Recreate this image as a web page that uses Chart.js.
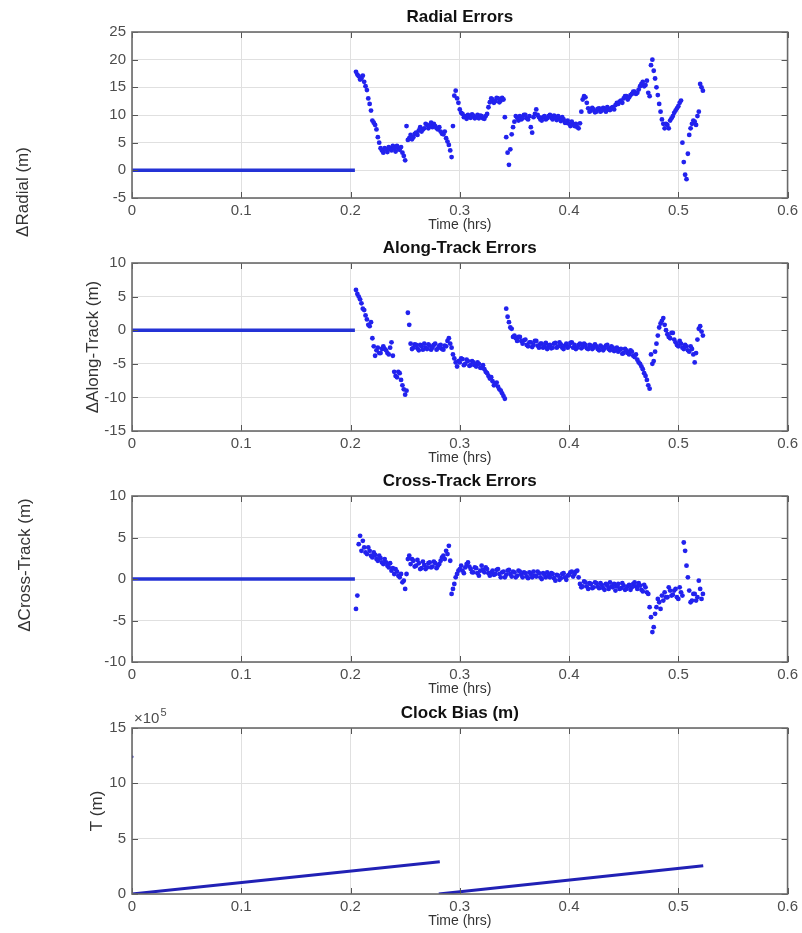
<!DOCTYPE html>
<html>
<head>
<meta charset="utf-8">
<script src="https://cdn.jsdelivr.net/npm/chart.js@4.4.1/dist/chart.umd.min.js"></script>
<style>
  html, body { margin: 0; padding: 0; background: #fff; overflow: hidden; }
  #fig { position: relative; width: 802px; height: 933px; }
  #fig canvas { position: absolute; left: 0; }
</style>
</head>
<body>
<div id="fig">
  <canvas id="pRadial" width="802" height="238" style="top:0px"></canvas>
  <canvas id="pAlong"  width="802" height="240" style="top:231px"></canvas>
  <canvas id="pCross"  width="802" height="238" style="top:464px"></canvas>
  <canvas id="pClock"  width="802" height="238" style="top:696px"></canvas>
</div>
<script>
// Solution epochs (hrs) after the filter converges, stored as two interleaved grids
const epochsA = [
  0.205, 0.2075, 0.21, 0.2125, 0.215, 0.2175, 0.22, 0.2225, 0.225, 0.2275,
  0.23, 0.2325, 0.235, 0.2375, 0.24, 0.2425, 0.245, 0.2475, 0.25, 0.2525,
  0.255, 0.2575, 0.26, 0.2625, 0.265, 0.2675, 0.27, 0.2725, 0.275, 0.2775,
  0.28, 0.2825, 0.285, 0.2875, 0.29, 0.2925, 0.295, 0.2975, 0.3, 0.3025,
  0.305, 0.3075, 0.31, 0.3125, 0.315, 0.3175, 0.32, 0.3225, 0.325, 0.3275,
  0.33, 0.3325, 0.335, 0.3375, 0.34, 0.3425, 0.345, 0.3475, 0.35, 0.3525,
  0.355, 0.3575, 0.36, 0.3625, 0.365, 0.3675, 0.37, 0.3725, 0.375, 0.3775,
  0.38, 0.3825, 0.385, 0.3875, 0.39, 0.3925, 0.395, 0.3975, 0.4, 0.4025,
  0.405, 0.4075, 0.41, 0.4125, 0.415, 0.4175, 0.42, 0.4225, 0.425, 0.4275,
  0.43, 0.4325, 0.435, 0.4375, 0.44, 0.4425, 0.445, 0.4475, 0.45, 0.4525,
  0.455, 0.4575, 0.46, 0.4625, 0.465, 0.4675, 0.47, 0.4725, 0.475, 0.4775,
  0.48, 0.4825, 0.485, 0.4875, 0.49, 0.4925, 0.495, 0.4975, 0.5, 0.5025,
  0.505, 0.5075, 0.51, 0.5125, 0.515, 0.5175, 0.52, 0.5225
];
const epochsB = [
  0.20625, 0.20875, 0.21125, 0.21375, 0.21625, 0.21875, 0.22125, 0.22375, 0.22625, 0.22875,
  0.23125, 0.23375, 0.23625, 0.23875, 0.24125, 0.24375, 0.24625, 0.24875, 0.25125, 0.25375,
  0.25625, 0.25875, 0.26125, 0.26375, 0.26625, 0.26875, 0.27125, 0.27375, 0.27625, 0.27875,
  0.28125, 0.28375, 0.28625, 0.28875, 0.29125, 0.29375, 0.29625, 0.29875, 0.30125, 0.30375,
  0.30625, 0.30875, 0.31125, 0.31375, 0.31625, 0.31875, 0.32125, 0.32375, 0.32625, 0.32875,
  0.33125, 0.33375, 0.33625, 0.33875, 0.34125, 0.34375, 0.34625, 0.34875, 0.35125, 0.35375,
  0.35625, 0.35875, 0.36125, 0.36375, 0.36625, 0.36875, 0.37125, 0.37375, 0.37625, 0.37875,
  0.38125, 0.38375, 0.38625, 0.38875, 0.39125, 0.39375, 0.39625, 0.39875, 0.40125, 0.40375,
  0.40625, 0.40875, 0.41125, 0.41375, 0.41625, 0.41875, 0.42125, 0.42375, 0.42625, 0.42875,
  0.43125, 0.43375, 0.43625, 0.43875, 0.44125, 0.44375, 0.44625, 0.44875, 0.45125, 0.45375,
  0.45625, 0.45875, 0.46125, 0.46375, 0.46625, 0.46875, 0.47125, 0.47375, 0.47625, 0.47875,
  0.48125, 0.48375, 0.48625, 0.48875, 0.49125, 0.49375, 0.49625, 0.49875, 0.50125, 0.50375,
  0.50625, 0.50875, 0.51125, 0.51375, 0.51625, 0.51875, 0.52125
];

// Radial error (m)
const radialA = [
  17.8, 17.0, 16.6, 16.0, 14.5, 12.0, 9.0, 8.2, 6.0, 4.0,
  3.2, 3.8, 4.2, 3.6, 4.0, 4.4, 3.7, 3.2, 1.8, 5.5,
  6.4, 6.0, 6.8, 7.2, 7.0, 7.6, 8.2, 8.0, 7.8, 8.0,
  7.4, 7.0, 6.5, 5.8, 4.6, 2.4, 13.5, 13.0, 11.0, 10.2,
  9.8, 10.0, 9.5, 9.9, 9.6, 9.4, 9.8, 9.3, 10.2, 12.3,
  12.8, 12.5, 13.0, 12.6, 12.8, 6.0, 1.0, 6.5, 8.8, 9.5,
  9.8, 9.4, 10.0, 9.2, 7.8, 9.6, 11.0, 9.6, 9.0, 9.8,
  9.4, 10.0, 9.2, 9.6, 9.8, 8.9, 9.2, 8.6, 8.4, 8.8,
  8.0, 7.8, 8.5, 12.8, 13.2, 11.2, 10.8, 11.0, 10.6, 11.2,
  10.8, 11.0, 11.4, 10.9, 11.4, 11.8, 12.0, 12.6, 13.0, 13.4,
  13.2, 13.8, 14.2, 14.0, 15.2, 16.0, 15.4, 14.0, 19.0, 18.0,
  15.0, 12.0, 9.2, 7.6, 8.2, 9.0, 9.8, 10.8, 11.6, 12.6,
  1.5, -1.6, 6.4, 8.4, 8.8, 9.8, 15.6, 14.4
];
const radialB = [
  17.3, 16.4, 17.1, 15.2, 13.0, 10.8, 8.6, 7.4, 5.0, 3.6,
  4.0, 3.3, 3.9, 4.4, 3.4, 3.9, 4.2, 2.6, 8.0, 5.8,
  5.6, 6.6, 6.4, 7.8, 7.4, 8.4, 7.6, 8.6, 8.4, 7.6,
  7.8, 6.6, 7.0, 5.2, 3.6, 8.0, 14.4, 12.2, 10.4, 9.6,
  9.3, 9.6, 10.1, 9.4, 10.0, 9.9, 9.4, 9.8, 11.4, 13.0,
  12.2, 13.1, 12.3, 13.1, 9.6, 3.2, 3.8, 7.8, 9.8, 9.0,
  9.2, 10.0, 9.4, 9.8, 6.8, 10.2, 10.0, 9.2, 9.6, 9.2,
  9.8, 9.5, 9.9, 9.1, 9.4, 9.6, 8.6, 9.0, 8.0, 8.3,
  8.4, 7.6, 10.6, 13.4, 12.2, 10.6, 11.3, 10.5, 11.1, 10.6,
  11.3, 10.6, 11.0, 11.3, 11.0, 12.2, 12.4, 12.2, 13.4, 12.8,
  13.6, 14.2, 13.8, 14.6, 15.6, 15.2, 16.2, 13.4, 20.0, 16.6,
  13.6, 10.6, 8.4, 8.4, 7.6, 9.4, 10.4, 11.2, 12.2, 5.0,
  -0.8, 3.0, 7.6, 9.0, 8.2, 10.6, 15.0
];

// Along-track error (m)
const alongA = [
  6.0, 5.0, 4.0, 3.0, 1.6, 0.6, -1.2, -3.8, -2.6, -3.4,
  -2.4, -3.0, -3.6, -1.8, -6.2, -7.0, -6.4, -8.2, -9.6, 2.6,
  -2.0, -2.6, -2.2, -3.0, -2.4, -2.0, -2.8, -2.3, -2.6, -2.0,
  -2.7, -2.2, -2.9, -2.4, -1.2, -2.6, -4.2, -5.4, -4.8, -4.3,
  -5.0, -4.6, -5.2, -4.8, -5.4, -5.0, -5.6, -5.8, -6.4, -7.2,
  -7.6, -8.0, -8.4, -9.0, -9.8, 3.2, 1.2, 0.2, -0.8, -1.6,
  -1.0, -2.0, -1.4, -2.4, -1.8, -2.2, -1.6, -2.6, -2.0, -2.4,
  -2.8, -2.2, -2.6, -1.9, -2.4, -2.1, -2.8, -2.0, -2.4, -1.8,
  -2.2, -2.6, -2.0, -2.5, -2.2, -2.8, -2.3, -2.6, -2.4, -3.0,
  -2.5, -2.7, -2.2, -3.0, -2.6, -2.9, -3.2, -2.8, -3.4, -3.0,
  -3.6, -3.2, -4.0, -4.4, -5.0, -5.8, -6.8, -8.2, -3.6, -4.6,
  -2.0, 0.4, 1.4, 0.8, -0.6, -1.2, -0.4, -1.8, -2.4, -2.0,
  -2.8, -2.4, -3.2, -2.8, -4.8, -1.4, 0.6, -0.8
];
const alongB = [
  5.4, 4.6, 3.2, 2.2, 0.8, 1.2, -2.4, -3.0, -3.4, -2.8,
  -2.8, -3.4, -2.6, -3.8, -6.8, -6.2, -7.4, -8.8, -9.0, 0.8,
  -2.8, -2.1, -2.7, -2.2, -2.9, -2.6, -2.1, -2.9, -2.2, -2.9,
  -2.3, -2.8, -2.3, -1.6, -2.0, -3.6, -4.8, -4.6, -4.2, -5.2,
  -4.4, -5.3, -4.6, -5.2, -4.8, -5.6, -5.2, -6.2, -6.8, -7.0,
  -8.2, -7.8, -8.8, -9.4, -10.2, 2.0, 0.4, -1.0, -1.2, -1.0,
  -1.6, -1.5, -2.2, -1.8, -2.5, -1.6, -2.3, -2.0, -2.6, -1.9,
  -2.3, -2.7, -2.0, -2.6, -1.8, -2.6, -2.3, -2.6, -1.9, -2.6,
  -2.8, -2.2, -2.7, -2.0, -2.7, -2.2, -2.8, -2.1, -2.8, -2.3,
  -3.0, -2.3, -2.8, -2.4, -3.1, -2.6, -2.9, -3.5, -2.8, -3.4,
  -3.0, -3.8, -3.6, -4.8, -5.4, -6.4, -7.4, -8.7, -5.0, -3.2,
  -0.8, 1.0, 1.8, 0.0, -1.0, -0.4, -1.4, -2.2, -1.6, -2.6,
  -2.2, -3.0, -2.4, -3.6, -3.4, 0.2, -0.2
];

// Cross-track error (m)
const crossA = [
  -3.6, 4.2, 3.4, 3.8, 3.0, 3.4, 2.6, 2.9, 2.2, 2.5,
  1.8, 2.0, 1.4, 1.0, 0.6, 0.9, 0.2, -0.4, -1.2, 2.4,
  1.8, 2.2, 1.6, 1.9, 1.3, 1.7, 1.4, 2.0, 1.5, 1.9,
  1.6, 2.2, 2.8, 3.4, 4.0, -1.8, -0.6, 0.6, 1.2, 1.0,
  1.4, 2.0, 1.2, 0.8, 1.3, 0.4, 1.6, 0.8, 1.2, 0.4,
  1.0, 0.6, 1.2, 0.2, 0.9, 0.5, 1.1, 0.3, 0.8, 0.4,
  0.9, 0.2, 0.7, 0.1, 0.6, 0.9, 0.3, 0.7, 0.0, 0.5,
  0.8, 0.2, 0.6, -0.2, 0.4, 0.1, 0.7, -0.1, 0.5, 0.9,
  0.6, 1.0, -0.6, -0.9, -0.4, -1.2, -0.6, -1.0, -0.5, -1.1,
  -0.7, -1.3, -0.8, -0.4, -1.0, -1.4, -0.6, -1.1, -0.8, -1.2,
  -0.7, -1.0, -0.4, -1.2, -0.8, -1.5, -1.0, -1.8, -4.6, -5.8,
  -3.4, -2.8, -2.0, -1.6, -2.2, -1.4, -1.9, -1.2, -2.4, -1.6,
  4.4, 1.6, -1.4, -2.6, -1.8, -2.2, -1.2, -1.8
];
const crossB = [
  -2.0, 5.2, 4.6, 3.2, 3.8, 2.8, 3.2, 2.4, 2.8, 2.0,
  2.4, 1.6, 1.9, 1.3, 1.2, 0.4, 0.6, -0.2, 0.6, 2.8,
  2.4, 1.5, 2.3, 1.2, 2.1, 1.2, 1.9, 1.4, 2.1, 1.3,
  1.8, 2.6, 2.4, 3.0, 2.2, -1.2, 0.2, 1.0, 1.6, 0.7,
  1.8, 1.5, 0.8, 1.4, 0.7, 1.0, 1.1, 1.4, 0.7, 0.8,
  0.5, 1.1, 0.6, 0.8, 0.2, 1.0, 0.6, 0.9, 0.2, 1.0,
  0.5, 0.8, 0.3, 0.8, 0.2, 0.4, 0.9, 0.2, 0.7, 0.2,
  0.4, 0.7, 0.1, 0.5, -0.1, 0.6, 0.2, 0.4, 0.8, 0.3,
  0.9, 0.2, -1.0, -0.3, -0.9, -0.5, -1.1, -0.4, -0.9, -0.5,
  -1.1, -0.6, -1.2, -0.9, -0.6, -0.9, -1.2, -0.5, -1.3, -0.9,
  -1.3, -0.6, -0.9, -0.5, -1.3, -0.7, -1.6, -3.4, -6.4, -4.2,
  -2.4, -3.6, -2.6, -2.2, -1.0, -2.0, -1.4, -2.2, -1.0, -2.0,
  3.4, 0.2, -2.8, -1.8, -2.6, -0.2, -2.4
];

// Before convergence the errors are held at zero
const idleT = [0, 0.204];
const idleV = [0, 0];

// Receiver clock bias (m): two ramps with a reset in between
const clockRamp1T = [0, 0.2817];
const clockRamp1V = [0, 292000];
const clockRamp2T = [0.2808, 0.5228];
const clockRamp2V = [0, 256000];
const clockInitT = [0];
const clockInitV = [1240000];

// Axis ticks
const timeTicks = [0, 0.1, 0.2, 0.3, 0.4, 0.5, 0.6];
const timeTickLabels = ['0', '0.1', '0.2', '0.3', '0.4', '0.5', '0.6'];
const radialTicks = [-5, 0, 5, 10, 15, 20, 25];
const alongTicks = [-15, -10, -5, 0, 5, 10];
const crossTicks = [-10, -5, 0, 5, 10];
const clockTicks = [0, 500000, 1000000, 1500000];
const clockTickLabels = ['0', '5', '10', '15'];

Chart.defaults.font.family = '"Liberation Sans", Arial, Helvetica, sans-serif';

const pairs = (xs, ys) => xs.map((x, i) => ({ x, y: ys[i] }));

const DOT = 'rgb(34,34,238)';

// Error samples drawn as plain dot markers
function dotSet(xs, ys) {
  return { data: pairs(xs, ys), showLine: false, pointRadius: 2.4,
           pointBackgroundColor: DOT, pointBorderWidth: 0, pointHoverRadius: 0 };
}
function lineSet(xs, ys, color, width) {
  return { data: pairs(xs, ys), showLine: true, borderColor: color, borderWidth: width,
           pointRadius: 0, pointHoverRadius: 0 };
}

// Boxed axes with inward ticks on all four sides, rotated y label, exponent note
const frame = {
  id: 'frame',
  afterDraw(chart, _args, o) {
    const { ctx, chartArea: a, scales: { x, y } } = chart;
    ctx.save();
    ctx.strokeStyle = '#555';
    ctx.lineWidth = 1;
    ctx.beginPath();
    x.ticks.forEach(t => {
      const p = Math.round(x.getPixelForValue(t.value)) + 0.5;
      ctx.moveTo(p, a.top); ctx.lineTo(p, a.top + 6);
      ctx.moveTo(p, a.bottom); ctx.lineTo(p, a.bottom - 6);
    });
    y.ticks.forEach(t => {
      const p = Math.round(y.getPixelForValue(t.value)) + 0.5;
      ctx.moveTo(a.left, p); ctx.lineTo(a.left + 6, p);
      ctx.moveTo(a.right, p); ctx.lineTo(a.right - 6, p);
    });
    ctx.stroke();
    ctx.strokeStyle = '#6a6a6a';
    ctx.lineWidth = 1.6;
    ctx.strokeRect(a.left, a.top, a.right - a.left, a.bottom - a.top);

    if (o.exponent) {
      ctx.fillStyle = '#4d4d4d';
      ctx.textAlign = 'left';
      ctx.textBaseline = 'alphabetic';
      ctx.font = '15px "Liberation Sans", Arial, sans-serif';
      const base = '\u00d710';
      ctx.fillText(base, a.left + 2, a.top - 5);
      const w = ctx.measureText(base).width;
      ctx.font = '11px "Liberation Sans", Arial, sans-serif';
      ctx.fillText(o.exponent, a.left + 2 + w + 1, a.top - 12);
    }

    ctx.translate(o.yLabelX, o.yLabelY);
    ctx.rotate(-Math.PI / 2);
    ctx.fillStyle = '#333';
    ctx.textAlign = 'center';
    ctx.textBaseline = 'middle';
    ctx.font = '17px "Liberation Sans", Arial, sans-serif';
    ctx.fillText(o.yLabel, 0, 0);
    ctx.restore();
  }
};

function panel(id, p) {
  return new Chart(document.getElementById(id), {
    type: 'scatter',
    data: { datasets: p.datasets },
    options: {
      responsive: false,
      animation: false,
      events: [],
      layout: { padding: { left: 0, right: 14, top: 0, bottom: 0 } },
      plugins: {
        legend: { display: false },
        tooltip: { enabled: false },
        title: {
          display: true, text: p.title, fullSize: false, color: '#111',
          font: { size: 17, weight: 'bold' }, padding: { top: 6.8, bottom: 4.8 }
        },
        frame: { yLabel: p.yLabel, yLabelX: p.yLabelX, yLabelY: p.yLabelY, exponent: p.exponent }
      },
      scales: {
        x: {
          type: 'linear', min: 0, max: 0.6,
          afterBuildTicks: s => { s.ticks = timeTicks.map(v => ({ value: v })); },
          afterFit: s => { s.height = 40; },
          grid: { color: '#e0e0e0', drawTicks: false },
          border: { display: false },
          ticks: { padding: 4, color: '#4d4d4d', font: { size: 15 }, maxRotation: 0, autoSkip: false,
                   callback: (v, i) => timeTickLabels[i] },
          title: { display: true, text: 'Time (hrs)', color: '#333', font: { size: 14 },
                   padding: { top: 0, bottom: 4 } }
        },
        y: {
          type: 'linear', min: p.yMin, max: p.yMax,
          afterBuildTicks: s => { s.ticks = p.yTicks.map(v => ({ value: v })); },
          afterFit: s => { s.width = 132; },
          grid: { color: '#e0e0e0', drawTicks: false },
          border: { display: false },
          ticks: { padding: 6, color: '#4d4d4d', font: { size: 15 }, autoSkip: false,
                   callback: (v, i) => p.yTickLabels[i] }
        }
      }
    },
    plugins: [frame]
  });
}

const ZERO = '#2432d6';

panel('pRadial', {
  title: 'Radial Errors', yLabel: '\u0394Radial (m)', yLabelX: 23, yLabelY: 192,
  yMin: -5, yMax: 25, yTicks: radialTicks, yTickLabels: radialTicks.map(String),
  datasets: [lineSet(idleT, idleV, ZERO, 3.5), dotSet(epochsA, radialA), dotSet(epochsB, radialB)]
});

panel('pAlong', {
  title: 'Along-Track Errors', yLabel: '\u0394Along-Track (m)', yLabelX: 93, yLabelY: 116,
  yMin: -15, yMax: 10, yTicks: alongTicks, yTickLabels: alongTicks.map(String),
  datasets: [lineSet(idleT, idleV, ZERO, 3.5), dotSet(epochsA, alongA), dotSet(epochsB, alongB)]
});

panel('pCross', {
  title: 'Cross-Track Errors', yLabel: '\u0394Cross-Track (m)', yLabelX: 25, yLabelY: 101,
  yMin: -10, yMax: 10, yTicks: crossTicks, yTickLabels: crossTicks.map(String),
  datasets: [lineSet(idleT, idleV, ZERO, 3.5), dotSet(epochsA, crossA), dotSet(epochsB, crossB)]
});

panel('pClock', {
  title: 'Clock Bias (m)', yLabel: 'T (m)', yLabelX: 97, yLabelY: 115, exponent: '5',
  yMin: 0, yMax: 1500000, yTicks: clockTicks, yTickLabels: clockTickLabels,
  datasets: [
    lineSet(clockRamp1T, clockRamp1V, '#2121b5', 3),
    lineSet(clockRamp2T, clockRamp2V, '#2121b5', 3),
    { data: pairs(clockInitT, clockInitV), showLine: false, pointRadius: 1.5,
      pointBackgroundColor: '#2121b5', pointBorderWidth: 0 }
  ]
});
</script>
</body>
</html>
